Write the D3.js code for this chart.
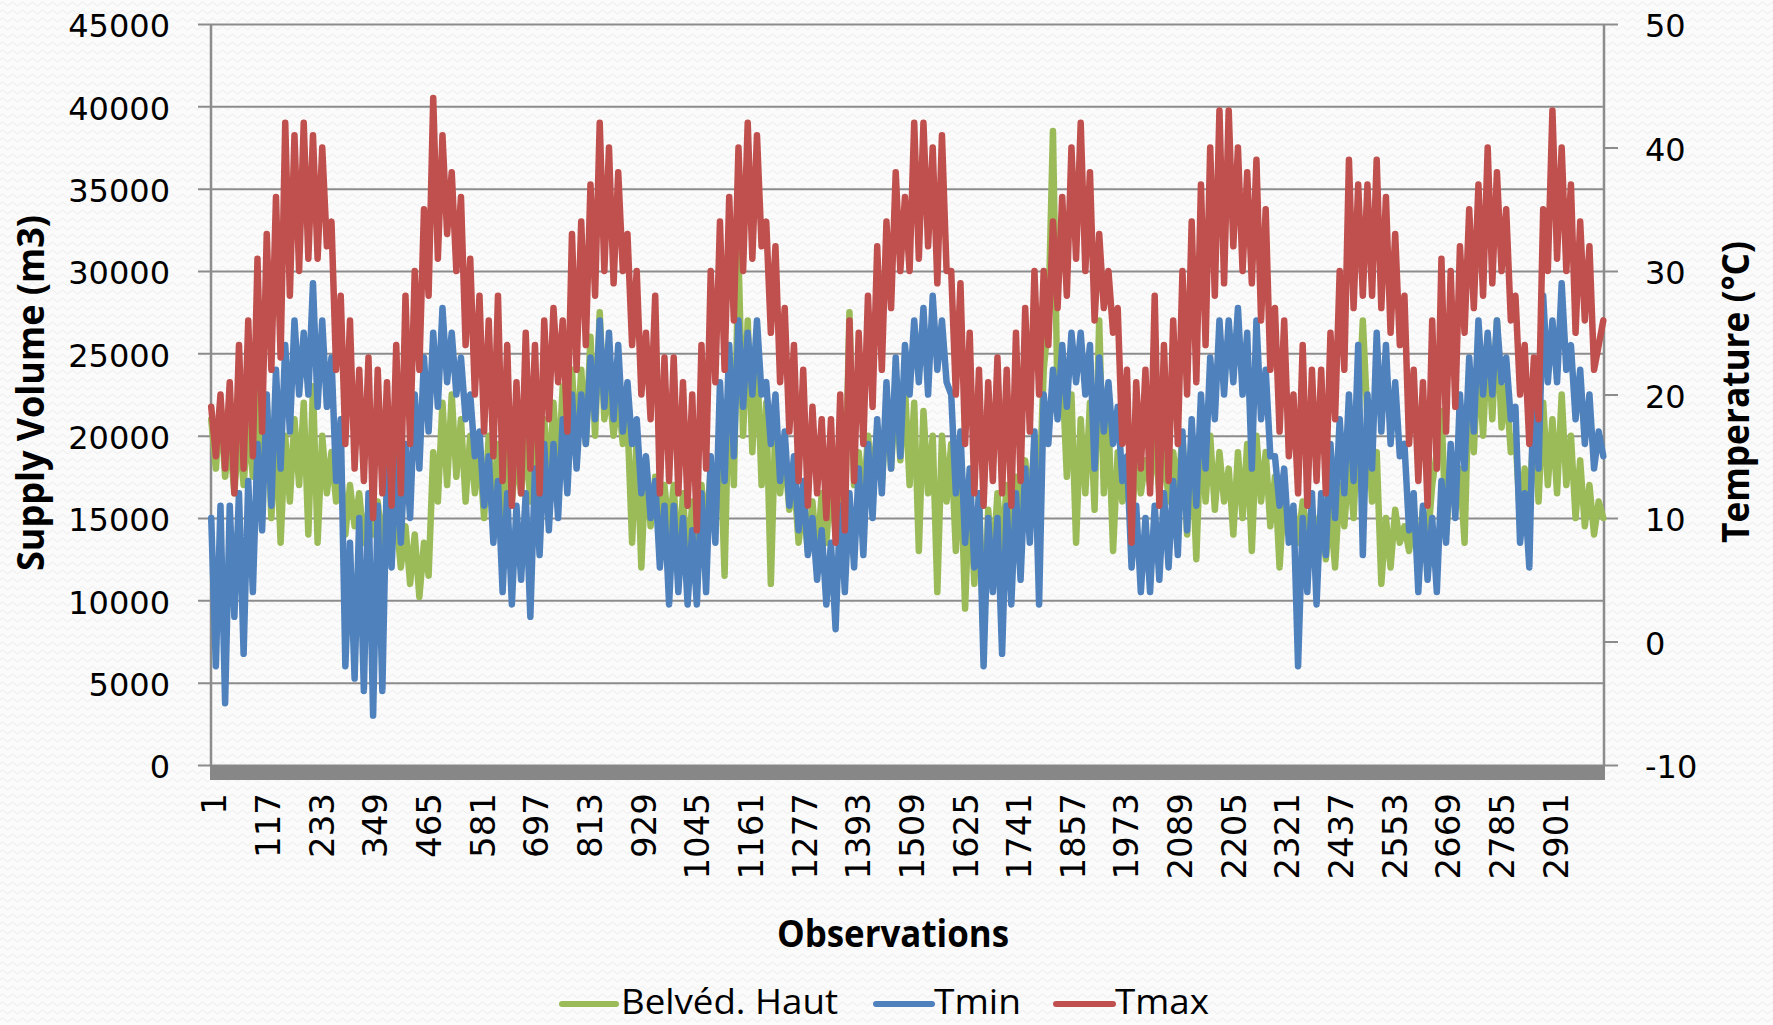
<!DOCTYPE html>
<html>
<head>
<meta charset="utf-8">
<script src="https://cdn.jsdelivr.net/npm/d3@7"></script>
<style>
  body { margin: 0; background: #fbfbfb; }
  svg { display: block; }
</style>
</head>
<body>
<svg id="chart" width="1773" height="1025"></svg>
<script>
// Number of daily observations and the spacing of the stored readings
const obsCount = 3012;
const sampleStep = 10;

// Category labels shown on the horizontal axis
const xTickLabels = [1, 117, 233, 349, 465, 581, 697, 813, 929, 1045, 1161, 1277, 1393, 1509, 1625,
  1741, 1857, 1973, 2089, 2205, 2321, 2437, 2553, 2669, 2785, 2901];
const volumeTicks = [0, 5000, 10000, 15000, 20000, 25000, 30000, 35000, 40000, 45000];
const tempTicks = [-10, 0, 10, 20, 30, 40, 50];

const seriesNames = ["Belvéd. Haut", "Tmin", "Tmax"];

// Daily supply volume of the Belvédère Haut reservoir (m3), every 10th observation
const belvedHaut = [
  21000, 18000, 22000, 17500, 20000, 16500, 20500, 17000, 21000, 17500,
  23000, 17000, 22000, 15000, 20500, 13500, 20000, 16000, 21000, 17000,
  22000, 14000, 23000, 13500, 20000, 16500, 19000, 16000, 18000, 14000,
  17000, 14500, 16500, 13500, 15500, 14000, 16000, 13000, 16000, 15000,
  15000, 12000, 14500, 11000, 14000, 10200, 13500, 11500, 19000, 16000,
  22000, 17000, 22500, 17500, 21000, 16000, 20000, 16500, 19000, 15000,
  20000, 15000, 19500, 14500, 19000, 16000, 19000, 16500, 20000, 16000,
  20000, 16500, 21000, 17000, 22000, 17500, 23000, 18000, 24000, 19000,
  24000, 19500, 26000, 20000, 27500, 21000, 23000, 20000, 22500, 19500,
  21000, 13500, 20000, 12000, 18500, 14500, 17500, 15000, 17000, 14000,
  17000, 12000, 16500, 11500, 16000, 13000, 17000, 14000, 18000, 15000,
  20000, 11500, 24000, 17000, 31000, 20000, 27000, 19000, 25000, 17000,
  22000, 11000, 21000, 16500, 19000, 15500, 17500, 13500, 16000, 13000,
  16000, 12500, 16500, 13500, 17500, 14000, 19000, 15000, 27500, 17000,
  19000, 16000, 20000, 17000, 20500, 17000, 22000, 18000, 23000, 18500,
  23000, 17000, 22000, 13000, 21500, 16500, 20000, 10500, 20000, 16000,
  19500, 13000, 18500, 9500, 17000, 11000, 16500, 7500, 15500, 12000,
  16500, 13000, 17000, 14000, 17500, 15000, 18500, 15500, 19500, 16000,
  24000, 27000, 38500, 22000, 24000, 17500, 22500, 13500, 21000, 16500,
  22000, 15500, 27000, 16500, 21000, 13000, 19000, 16000, 17500, 14500,
  19000, 16500, 18500, 17000, 20000, 16500, 19500, 16000, 19000, 16500,
  20000, 14000, 19500, 12500, 20500, 16000, 20000, 15500, 19000, 16000,
  18000, 14000, 19000, 15000, 19500, 13000, 20000, 16000, 19000, 14500,
  17500, 12000, 16500, 14500, 15500, 13500, 16000, 14000, 15500, 14000,
  15500, 12500, 15500, 12000, 17000, 14500, 18500, 15000, 21000, 27000,
  21000, 16000, 19000, 11000, 15000, 12000, 15500, 13500, 14500, 13000,
  15000, 13000, 15500, 13500, 17000, 19000, 21500, 14000, 18000, 15500,
  18000, 13500, 24000, 19000, 25000, 20000, 26000, 21000, 27000, 20500,
  23000, 19000, 20000, 15000, 18000, 15500, 21000, 16000, 22000, 17000,
  21000, 16500, 22500, 17000, 20000, 15000, 18500, 14500, 17000, 14000,
  16000, 15000
];

// Daily minimum temperature (°C), every 10th observation
const tMin = [
  10, -2, 11, -5, 11, 2, 12, -1, 13, 4,
  16, 9, 20, 11, 22, 14, 24, 17, 26, 20,
  25, 20, 29, 19, 26, 19, 23, 13, 18, -2,
  8, -3, 10, -4, 12, -6, 11, -4, 14, 6,
  15, 8, 16, 10, 20, 14, 23, 17, 25, 19,
  27, 21, 25, 20, 23, 18, 20, 15, 17, 11,
  15, 8, 13, 4, 12, 3, 11, 5, 12, 2,
  14, 7, 16, 9, 16, 10, 18, 12, 20, 14,
  20, 16, 23, 18, 26, 19, 25, 18, 24, 17,
  21, 16, 18, 12, 15, 10, 13, 6, 11, 3,
  11, 4, 10, 3, 9, 3, 12, 4, 15, 8,
  21, 13, 24, 15, 26, 19, 25, 20, 26, 20,
  21, 16, 20, 13, 17, 11, 15, 9, 13, 7,
  10, 5, 9, 3, 8, 1, 11, 4, 12, 6,
  14, 7, 16, 10, 18, 12, 21, 14, 23, 15,
  24, 20, 26, 21, 27, 20, 28, 22, 26, 21,
  20, 12, 17, 8, 14, 6, 12, -2, 10, 4,
  10, -1, 11, 3, 12, 5, 14, 8, 17, 3,
  20, 16, 22, 18, 24, 19, 25, 21, 25, 20,
  24, 14, 23, 17, 21, 16, 19, 13, 15, 6,
  11, 4, 10, 4, 11, 5, 12, 6, 13, 7,
  17, 9, 18, 11, 20, 14, 23, 18, 26, 20,
  26, 21, 27, 20, 25, 14, 26, 18, 22, 15,
  15, 11, 14, 8, 11, -2, 10, 4, 12, 3,
  12, 7, 16, 10, 18, 12, 20, 13, 24, 7,
  20, 14, 25, 17, 24, 16, 21, 15, 16, 9,
  12, 4, 11, 5, 10, 4, 13, 8, 16, 10,
  20, 14, 23, 17, 26, 20, 25, 20, 26, 21,
  23, 18, 19, 8, 12, 6, 22, 14, 28, 21,
  26, 21, 29, 22, 24, 18, 22, 16, 20, 14,
  17, 15
];

// Daily maximum temperature (°C), every 10th observation
const tMax = [
  19, 15, 20, 14, 21, 12, 24, 14, 26, 15,
  31, 17, 33, 22, 36, 23, 42, 28, 41, 30,
  42, 31, 41, 31, 40, 32, 34, 22, 28, 16,
  26, 14, 22, 13, 23, 10, 22, 12, 21, 11,
  24, 12, 28, 16, 30, 22, 35, 28, 44, 31,
  41, 33, 38, 30, 36, 24, 31, 20, 28, 17,
  26, 15, 28, 13, 24, 11, 21, 12, 25, 14,
  24, 12, 26, 18, 27, 21, 26, 17, 33, 22,
  34, 24, 37, 28, 42, 30, 40, 29, 38, 30,
  33, 24, 30, 20, 25, 18, 28, 12, 23, 13,
  23, 12, 21, 11, 20, 9, 24, 14, 30, 21,
  34, 22, 36, 26, 40, 30, 42, 31, 41, 32,
  34, 25, 32, 21, 27, 17, 24, 13, 22, 11,
  19, 12, 18, 10, 18, 8, 20, 9, 26, 13,
  25, 16, 28, 19, 32, 22, 34, 27, 38, 30,
  36, 30, 42, 31, 42, 32, 40, 29, 41, 30,
  30, 20, 29, 16, 25, 12, 22, 11, 21, 13,
  23, 12, 22, 11, 25, 13, 27, 17, 30, 20,
  30, 24, 34, 27, 36, 28, 40, 31, 42, 30,
  38, 26, 33, 27, 30, 25, 27, 16, 22, 8,
  21, 14, 22, 12, 28, 11, 24, 13, 26, 16,
  30, 20, 34, 21, 37, 24, 40, 28, 43, 29,
  43, 32, 40, 30, 38, 29, 39, 26, 35, 22,
  27, 17, 26, 15, 20, 12, 24, 11, 22, 13,
  22, 12, 25, 18, 30, 22, 39, 27, 37, 28,
  37, 28, 39, 27, 36, 25, 33, 24, 28, 16,
  22, 13, 21, 11, 26, 14, 31, 17, 30, 19,
  32, 25, 35, 27, 37, 28, 40, 29, 38, 30,
  35, 26, 28, 20, 24, 16, 23, 18, 35, 30,
  43, 31, 40, 30, 37, 25, 34, 26, 32, 22,
  24, 26
];

const colors = { green: "#9bbb59", blue: "#4f81bd", red: "#c0504d" };
const gridColor = "#8c8c8c";
const numFont = "'DejaVu Sans', Verdana, sans-serif";
const titleFont = "'Open Sans', 'Noto Sans', sans-serif";
const plainNumber = d => String(d);

const svg = d3.select("#chart");

// faint woven background texture
const defs = svg.append("defs");
const pat = defs.append("pattern")
  .attr("id", "weave").attr("patternUnits", "userSpaceOnUse")
  .attr("width", 10).attr("height", 8);
pat.append("rect").attr("width", 10).attr("height", 8).attr("fill", "#fbfbfb");
pat.append("path").attr("d", "M0,4 C2.5,1.8 2.5,1.8 5,4 S7.5,6.2 10,4")
  .attr("fill", "none").attr("stroke", "#ececec").attr("stroke-width", 1);
svg.append("rect").attr("width", 1773).attr("height", 1025).attr("fill", "url(#weave)");

const plot = { left: 211, right: 1604, top: 24, bottom: 765 };

const x = d3.scaleLinear().domain([0.5, obsCount + 0.5]).range([plot.left, plot.right]);
const yVol = d3.scaleLinear().domain([0, 45000]).range([plot.bottom, plot.top]);
const yTemp = d3.scaleLinear().domain([-10, 50]).range([plot.bottom, plot.top]);

// horizontal gridlines with left-axis tick labels
const leftAxis = d3.axisLeft(yVol).tickValues(volumeTicks).tickSize(plot.right - plot.left + 13)
  .tickPadding(28).tickFormat(plainNumber);
const gL = svg.append("g").attr("transform", `translate(${plot.right},0)`).call(leftAxis);
gL.select(".domain").remove();
gL.selectAll(".tick line").attr("stroke", gridColor).attr("stroke-width", 2);
gL.selectAll(".tick text").attr("font-family", numFont).attr("font-size", 32)
  .attr("fill", "#000").attr("dy", "0.4em");

// left and right vertical axis lines
svg.append("line").attr("x1", plot.left).attr("x2", plot.left)
  .attr("y1", plot.top).attr("y2", plot.bottom)
  .attr("stroke", gridColor).attr("stroke-width", 2.5);
svg.append("line").attr("x1", plot.right).attr("x2", plot.right)
  .attr("y1", plot.top).attr("y2", plot.bottom)
  .attr("stroke", gridColor).attr("stroke-width", 2.5);

// right temperature axis
const rightAxis = d3.axisRight(yTemp).tickValues(tempTicks).tickSize(14).tickPadding(27)
  .tickFormat(plainNumber);
const gR = svg.append("g").attr("transform", `translate(${plot.right},0)`).call(rightAxis);
gR.select(".domain").remove();
gR.selectAll(".tick line").attr("stroke", gridColor).attr("stroke-width", 2);
gR.selectAll(".tick text").attr("font-family", numFont).attr("font-size", 32)
  .attr("fill", "#000").attr("dy", "0.4em");

// series lines
const sampleObs = i => 1 + i * sampleStep;
const lineVol = d3.line().x((d, i) => x(sampleObs(i))).y(d => yVol(d));
const lineTemp = d3.line().x((d, i) => x(sampleObs(i))).y(d => yTemp(d));

const seriesG = svg.append("g").attr("fill", "none")
  .attr("stroke-width", 6.5).attr("stroke-linejoin", "round").attr("stroke-linecap", "round");
seriesG.append("path").datum(belvedHaut).attr("d", lineVol).attr("stroke", colors.green);
seriesG.append("path").datum(tMin).attr("d", lineTemp).attr("stroke", colors.blue);
seriesG.append("path").datum(tMax).attr("d", lineTemp).attr("stroke", colors.red);

// dense category tick marks forming the base band
svg.append("rect").attr("x", plot.left - 1).attr("y", plot.bottom)
  .attr("width", plot.right - plot.left + 2).attr("height", 15).attr("fill", "#878787");

// category labels
const xLab = svg.append("g");
xTickLabels.forEach(v => {
  xLab.append("text")
    .attr("transform", `translate(${x(v) + 3},793) rotate(-90)`)
    .attr("text-anchor", "end").attr("dy", "0.36em")
    .attr("font-family", numFont).attr("font-size", 34).attr("fill", "#000")
    .text(v);
});

// axis titles
svg.append("text")
  .attr("transform", "translate(44,393) rotate(-90)")
  .attr("text-anchor", "middle").attr("font-family", titleFont).attr("font-weight", "bold")
  .attr("font-size", 37).attr("textLength", 356).attr("lengthAdjust", "spacingAndGlyphs")
  .text("Supply Volume (m3)");
svg.append("text")
  .attr("transform", "translate(1749,392) rotate(-90)")
  .attr("text-anchor", "middle").attr("font-family", titleFont).attr("font-weight", "bold")
  .attr("font-size", 37).attr("textLength", 302).attr("lengthAdjust", "spacingAndGlyphs")
  .text("Temperature (°C)");
svg.append("text")
  .attr("x", 893).attr("y", 947)
  .attr("text-anchor", "middle").attr("font-family", titleFont).attr("font-weight", "bold")
  .attr("font-size", 37).attr("textLength", 232).attr("lengthAdjust", "spacingAndGlyphs")
  .text("Observations");

// legend
const legendItems = [
  { name: seriesNames[0], color: colors.green, x0: 562, x1: 616, tx: 621, tw: 217 },
  { name: seriesNames[1], color: colors.blue, x0: 876, x1: 932, tx: 934, tw: 87 },
  { name: seriesNames[2], color: colors.red, x0: 1056, x1: 1113, tx: 1115, tw: 94 }
];
const leg = svg.append("g");
legendItems.forEach(it => {
  leg.append("line").attr("x1", it.x0).attr("x2", it.x1).attr("y1", 1004).attr("y2", 1004)
    .attr("stroke", it.color).attr("stroke-width", 6).attr("stroke-linecap", "round");
  leg.append("text").attr("x", it.tx).attr("y", 1014)
    .attr("font-family", titleFont).attr("font-size", 35).attr("fill", "#000")
    .attr("textLength", it.tw).attr("lengthAdjust", "spacingAndGlyphs")
    .text(it.name);
});
</script>
</body>
</html>
